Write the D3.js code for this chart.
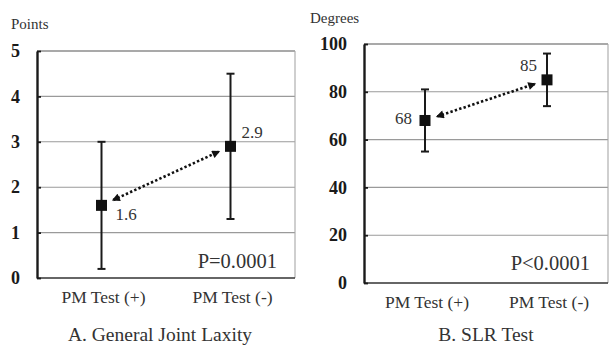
<!DOCTYPE html>
<html>
<head>
<meta charset="utf-8">
<script src="https://cdn.jsdelivr.net/npm/d3@7"></script>
<style>
  html, body { margin: 0; padding: 0; background: #fff; }
  svg { display: block; }
  text { font-family: "Liberation Serif", "Times New Roman", serif; }
</style>
</head>
<body>
<svg id="chart" width="610" height="346"></svg>
<script>
// Groups compared in both panels
const categories = ["PM Test (+)", "PM Test (-)"];

// Panel A: general joint laxity score (points)
const laxityMean = [1.6, 2.9];
const laxityLow  = [0.2, 1.3];
const laxityHigh = [3.0, 4.5];
const laxityTicks = [0, 1, 2, 3, 4, 5];

// Panel B: straight leg raise angle (degrees)
const slrMean = [68, 85];
const slrLow  = [55, 74];
const slrHigh = [81, 96];
const slrTicks = [0, 20, 40, 60, 80, 100];

const svg = d3.select("#chart");

const panels = [
  {
    unit: "Points", title: "A. General Joint Laxity", pText: "P=0.0001",
    mean: laxityMean, low: laxityLow, high: laxityHigh, ticks: laxityTicks,
    box: { left: 37, right: 295, top: 51, bottom: 278 },
    unitPos: [11, 29], titleX: 160, pY: 268,
    labelDx: [14, 11], labelDy: [15, -8], labelAnchor: ["start", "start"]
  },
  {
    unit: "Degrees", title: "B. SLR Test", pText: "P<0.0001",
    mean: slrMean, low: slrLow, high: slrHigh, ticks: slrTicks,
    box: { left: 364, right: 608, top: 44, bottom: 283 },
    unitPos: [310, 23], titleX: 486, pY: 270,
    labelDx: [-13, -10], labelDy: [4, -9], labelAnchor: ["end", "end"]
  }
];

// Arrowhead used at both ends of the dotted comparison line
svg.append("defs").append("marker")
  .attr("id", "arrowhead")
  .attr("viewBox", "0 0 10 10")
  .attr("refX", 8).attr("refY", 5)
  .attr("markerWidth", 9).attr("markerHeight", 8)
  .attr("markerUnits", "userSpaceOnUse")
  .attr("orient", "auto-start-reverse")
  .append("path")
  .attr("d", "M0,0 L10,5 L0,10 Z")
  .attr("fill", "#111");

panels.forEach(p => {
  const b = p.box;
  const yMax = d3.max(p.ticks);
  const x = d3.scaleBand().domain(categories).range([b.left, b.right]);
  const y = d3.scaleLinear().domain([0, yMax]).range([b.bottom, b.top]);
  const g = svg.append("g");

  // Horizontal gridlines
  g.selectAll("line.grid")
    .data(p.ticks.filter(t => t > 0))
    .join("line")
    .attr("x1", b.left).attr("x2", b.right)
    .attr("y1", d => y(d)).attr("y2", d => y(d))
    .attr("stroke", d => d === yMax ? "#555" : "#9a9a9a")
    .attr("stroke-width", 1.1);

  // Right frame edge
  g.append("line")
    .attr("x1", b.right).attr("x2", b.right)
    .attr("y1", b.top).attr("y2", b.bottom)
    .attr("stroke", "#a8a8a8").attr("stroke-width", 1.1);

  // Bottom axis line
  g.append("line")
    .attr("x1", b.left).attr("x2", b.right)
    .attr("y1", b.bottom).attr("y2", b.bottom)
    .attr("stroke", "#333").attr("stroke-width", 1.6);

  // Left axis with short inward ticks and bold numerals
  const yAxis = g.append("g")
    .attr("transform", `translate(${b.left},0)`)
    .call(d3.axisLeft(y).tickValues(p.ticks).tickFormat(d3.format("d"))
      .tickSizeInner(-4).tickSizeOuter(0).tickPadding(17));
  yAxis.select(".domain").attr("stroke", "#1a1a1a").attr("stroke-width", 2.4);
  yAxis.selectAll(".tick line").attr("stroke", "#1a1a1a").attr("stroke-width", 1.8);
  yAxis.selectAll(".tick text")
    .attr("font-family", "'Liberation Serif', serif")
    .attr("font-size", 18).attr("font-weight", "bold")
    .attr("fill", "#1a1a1a");

  // Category labels under the axis
  g.selectAll("text.cat")
    .data(categories)
    .join("text")
    .attr("x", d => x(d) + x.bandwidth() / 2 + 2)
    .attr("y", b.bottom + 25)
    .attr("text-anchor", "middle")
    .attr("font-size", 17.5)
    .attr("fill", "#333")
    .text(d => d);

  // Unit label above the axis
  g.append("text")
    .attr("x", p.unitPos[0]).attr("y", p.unitPos[1])
    .attr("font-size", 15).attr("fill", "#333")
    .text(p.unit);

  // Panel title
  g.append("text")
    .attr("x", p.titleX).attr("y", 341)
    .attr("text-anchor", "middle")
    .attr("font-size", 19.5).attr("fill", "#333")
    .text(p.title);

  // Significance
  g.append("text")
    .attr("x", b.right - 18).attr("y", p.pY)
    .attr("text-anchor", "end")
    .attr("font-size", 20.5).attr("fill", "#333")
    .text(p.pText);

  const cx = i => x(categories[i]) + x.bandwidth() / 2;
  const idx = categories.map((_, i) => i);

  // Error bars
  g.selectAll("line.err")
    .data(idx).join("line")
    .attr("x1", cx).attr("x2", cx)
    .attr("y1", i => y(p.low[i])).attr("y2", i => y(p.high[i]))
    .attr("stroke", "#1a1a1a").attr("stroke-width", 2);
  [p.low, p.high].forEach(arr => {
    g.selectAll(null)
      .data(idx).join("line")
      .attr("x1", i => cx(i) - 4).attr("x2", i => cx(i) + 4)
      .attr("y1", i => y(arr[i])).attr("y2", i => y(arr[i]))
      .attr("stroke", "#1a1a1a").attr("stroke-width", 2);
  });

  // Dotted double-headed arrow between the two means, shortened at both ends
  const x0 = cx(0), y0 = y(p.mean[0]), x1 = cx(1), y1 = y(p.mean[1]);
  const len = Math.hypot(x1 - x0, y1 - y0);
  const ux = (x1 - x0) / len, uy = (y1 - y0) / len;
  const gap = 13;
  g.append("line")
    .attr("x1", x0 + ux * gap).attr("y1", y0 + uy * gap)
    .attr("x2", x1 - ux * gap).attr("y2", y1 - uy * gap)
    .attr("stroke", "#111").attr("stroke-width", 2.6)
    .attr("stroke-dasharray", "2.4,2.2")
    .attr("marker-start", "url(#arrowhead)")
    .attr("marker-end", "url(#arrowhead)");

  // Mean markers
  const s = 11;
  g.selectAll("rect.mean")
    .data(idx).join("rect")
    .attr("x", i => cx(i) - s / 2).attr("y", i => y(p.mean[i]) - s / 2)
    .attr("width", s).attr("height", s)
    .attr("fill", "#111");

  // Mean value labels
  g.selectAll("text.val")
    .data(idx).join("text")
    .attr("x", i => cx(i) + p.labelDx[i])
    .attr("y", i => y(p.mean[i]) + p.labelDy[i])
    .attr("text-anchor", i => p.labelAnchor[i])
    .attr("font-size", 17).attr("fill", "#333")
    .text(i => p.mean[i]);
});
</script>
</body>
</html>
